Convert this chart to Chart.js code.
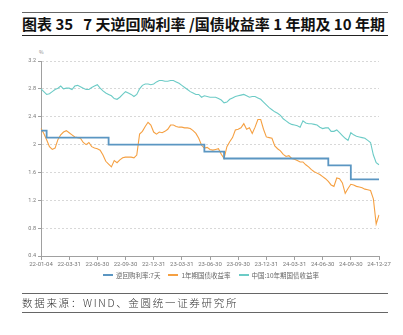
<!DOCTYPE html>
<html>
<head>
    <meta charset="utf-8">
    <title>7天逆回购利率 / 国债收益率</title>
    <script src="https://cdn.jsdelivr.net/npm/chart.js"></script>
    <style>
        body {
            margin: 0;
            width: 403px;
            height: 335px;
            background: #ffffff;
            position: relative;
            overflow: hidden;
            font-family: "Noto Sans CJK SC", "Noto Sans", sans-serif;
        }
        .title {
            position: absolute;
            left: 22px;
            top: 12px;
            width: 366px;
            height: 22px;
            border-top: 1px solid #666;
            border-bottom: 1px solid #222;
            font-size: 15px;
            font-weight: bold;
            line-height: 22px;
            color: #111;
            white-space: pre;
        }
        .unit {
            position: absolute;
            left: 39px;
            top: 48px;
            font-size: 5px;
            color: #888;
        }
        .chart-box {
            position: absolute;
            left: 0;
            top: 44px;
            width: 398px;
            height: 226px;
        }
        .legend {
            position: absolute;
            left: 103px;
            top: 268px;
            height: 10px;
            font-size: 6.5px;
            line-height: 10px;
            color: #666;
            white-space: nowrap;
        }
        .legend span {
            display: inline-block;
            vertical-align: middle;
        }
        .legend .swatch {
            width: 10px;
            height: 1.5px;
            margin-right: 3px;
        }
        .legend .item {
            margin-right: 8px;
        }
        .source {
            position: absolute;
            left: 22px;
            top: 293px;
            width: 366px;
            height: 18px;
            border-top: 1px solid #666;
            border-bottom: 1px solid #666;
            font-size: 10.5px;
            font-weight: 300;
            letter-spacing: 1.7px;
            line-height: 18px;
            color: #333;
            white-space: pre;
        }
    </style>
</head>
<body>
    <div class="title">图表 35   7 天逆回购利率 /国债收益率 1 年期及 10 年期</div>
    <div class="unit">%</div>
    <div class="chart-box">
        <canvas id="rates"></canvas>
    </div>
    <div class="legend" id="legend"></div>
    <div class="source">数据来源：WIND、金圆统一证券研究所</div>

    <script>
        // quarter-end dates shown on the x axis
        const tickLabels = ['22-01-04', '22-03-31', '22-06-30', '22-09-30', '22-12-31', '23-03-31', '23-06-30',
            '23-09-30', '23-12-31', '24-03-31', '24-06-30', '24-09-30', '24-12-27'];
        const pointsPerQuarter = 10;

        // 7-day reverse repo rate (%)
        const repo7d = [
            2.2, 2.2,
            2.1, 2.1, 2.1, 2.1, 2.1, 2.1, 2.1, 2.1, 2.1, 2.1, 2.1, 2.1, 2.1, 2.1, 2.1, 2.1, 2.1, 2.1, 2.1, 2.1, 2.1, 2.1,
            2.0, 2.0, 2.0, 2.0, 2.0, 2.0, 2.0, 2.0, 2.0, 2.0, 2.0, 2.0, 2.0, 2.0, 2.0, 2.0, 2.0, 2.0, 2.0, 2.0, 2.0, 2.0,
            2.0, 2.0, 2.0, 2.0, 2.0, 2.0, 2.0, 2.0, 2.0, 2.0, 2.0, 2.0,
            1.9, 1.9, 1.9, 1.9, 1.9, 1.9, 1.9,
            1.8, 1.8, 1.8, 1.8, 1.8, 1.8, 1.8, 1.8, 1.8, 1.8, 1.8, 1.8, 1.8, 1.8, 1.8, 1.8, 1.8, 1.8, 1.8, 1.8, 1.8,
            1.8, 1.8, 1.8, 1.8, 1.8, 1.8, 1.8, 1.8, 1.8, 1.8, 1.8, 1.8, 1.8, 1.8, 1.8, 1.8,
            1.7, 1.7, 1.7, 1.7, 1.7, 1.7, 1.7, 1.7,
            1.5, 1.5, 1.5, 1.5, 1.5, 1.5, 1.5, 1.5, 1.5, 1.5, 1.5
        ];

        // 1-year government bond yield (%)
        const cgb1y = [
            2.23, 2.16, 2.07, 1.97, 1.93, 1.95, 2.07, 2.14, 2.18, 2.20,
            2.17, 2.14, 2.11, 2.10, 2.09, 2.03, 2.00, 2.03, 1.97, 1.95,
            1.94, 1.92, 1.85, 1.76, 1.72, 1.68, 1.77, 1.74, 1.78, 1.81,
            1.82, 1.82, 1.82, 1.81, 1.85, 2.15, 2.19, 2.26, 2.32, 2.28,
            2.18, 2.15, 2.18, 2.17, 2.19, 2.22, 2.28, 2.28, 2.26, 2.25,
            2.25, 2.24, 2.24, 2.23, 2.20, 2.16, 2.09, 1.99, 1.95, 1.96,
            1.93, 1.92, 1.93, 1.94, 1.86, 1.80, 1.97, 2.04, 2.10, 2.21,
            2.22, 2.24, 2.30, 2.22, 2.24, 2.16, 2.25, 2.36, 2.36, 2.22,
            2.11, 2.10, 2.09, 1.98, 1.94, 1.91, 1.86, 1.83, 1.84, 1.80,
            1.79, 1.77, 1.75, 1.75, 1.71, 1.68, 1.64, 1.61, 1.59, 1.57,
            1.54, 1.51, 1.47, 1.42, 1.40, 1.52, 1.51, 1.45, 1.30, 1.37,
            1.43, 1.42, 1.40, 1.39, 1.38, 1.36, 1.35, 1.34, 1.22, 0.86,
            0.99
        ];

        // China 10-year government bond yield (%)
        const cgb10y = [
            2.80, 2.76, 2.72, 2.73, 2.76, 2.79, 2.81, 2.84, 2.80, 2.81,
            2.81, 2.79, 2.84, 2.85, 2.83, 2.81, 2.79, 2.79, 2.82, 2.84,
            2.86, 2.81, 2.77, 2.74, 2.72, 2.70, 2.66, 2.65, 2.68, 2.72,
            2.76, 2.74, 2.72, 2.69, 2.72, 2.80, 2.85, 2.87, 2.87, 2.86,
            2.87, 2.90, 2.92, 2.92, 2.91, 2.91, 2.92, 2.92, 2.90, 2.88,
            2.85, 2.82, 2.79, 2.76, 2.74, 2.72, 2.72, 2.68, 2.70, 2.69,
            2.68, 2.68, 2.68, 2.66, 2.64, 2.60, 2.61, 2.65, 2.67, 2.69,
            2.70, 2.71, 2.72, 2.70, 2.68, 2.69, 2.69, 2.67, 2.65, 2.61,
            2.57, 2.53, 2.50, 2.47, 2.45, 2.42, 2.37, 2.34, 2.31, 2.29,
            2.28, 2.27, 2.25, 2.34, 2.31, 2.30, 2.30, 2.29, 2.28, 2.25,
            2.23, 2.24, 2.24, 2.19, 2.19, 2.21, 2.17, 2.13, 2.09, 2.06,
            2.17, 2.14, 2.12, 2.11, 2.10, 2.09, 2.06, 2.03, 1.85, 1.74,
            1.71
        ];

        // one category per sample, only the quarter-end ones carry text
        const labels = [];
        tickLabels.forEach((t, q) => {
            labels.push(t);
            if (q < tickLabels.length - 1) {
                for (let k = 1; k < pointsPerQuarter; k++) labels.push('');
            }
        });

        const axisGray = '#a0a0a0';
        const textGray = '#777';

        const ctx = document.getElementById('rates').getContext('2d');
        const chart = new Chart(ctx, {
            type: 'line',
            data: {
                labels: labels,
                datasets: [{
                    label: '逆回购利率:7天',
                    data: repo7d,
                    borderColor: '#5b96c2',
                    backgroundColor: '#5b96c2',
                    borderWidth: 1.8,
                    stepped: true
                }, {
                    label: '1年期国债收益率',
                    data: cgb1y,
                    borderColor: '#f5a042',
                    backgroundColor: '#f5a042',
                    borderWidth: 1.1
                }, {
                    label: '中国:10年期国债收益率',
                    data: cgb10y,
                    borderColor: '#6ccbc6',
                    backgroundColor: '#6ccbc6',
                    borderWidth: 1.1
                }]
            },
            options: {
                responsive: true,
                maintainAspectRatio: false,
                animation: false,
                elements: {
                    point: { radius: 0 },
                    line: { tension: 0 }
                },
                layout: {
                    padding: { left: 27, right: 19, top: 17, bottom: 1 }
                },
                scales: {
                    x: {
                        type: 'category',
                        grid: {
                            drawOnChartArea: false,
                            color: axisGray,
                            tickLength: 4
                        },
                        border: { color: axisGray },
                        ticks: {
                            autoSkip: false,
                            maxRotation: 0,
                            padding: 1,
                            color: textGray,
                            font: { size: 6, family: 'Roboto' },
                            callback: (value, index) => labels[index] || null
                        },
                        afterFit: (scale) => { scale.height = 13; }
                    },
                    y: {
                        min: 0.4,
                        max: 3.2,
                        grid: {
                            color: '#d8d8d8',
                            tickColor: axisGray,
                            tickLength: 3,
                            tickBorderDash: []
                        },
                        border: { color: axisGray, dash: [2, 2] },
                        ticks: {
                            stepSize: 0.4,
                            padding: 2,
                            color: textGray,
                            font: { size: 5.5, family: 'Roboto' },
                            callback: (value) => Number(value.toFixed(1)).toString()
                        },
                        afterFit: (scale) => { scale.width = 14; }
                    }
                },
                plugins: {
                    legend: { display: false },
                    tooltip: { enabled: false }
                }
            }
        });

        // legend row under the axis, built from the chart's own datasets
        const legendEl = document.getElementById('legend');
        chart.data.datasets.forEach((ds) => {
            const item = document.createElement('span');
            item.className = 'item';
            const swatch = document.createElement('span');
            swatch.className = 'swatch';
            swatch.style.background = ds.borderColor;
            const text = document.createElement('span');
            text.textContent = ds.label;
            item.appendChild(swatch);
            item.appendChild(text);
            legendEl.appendChild(item);
        });
    </script>
</body>
</html>
